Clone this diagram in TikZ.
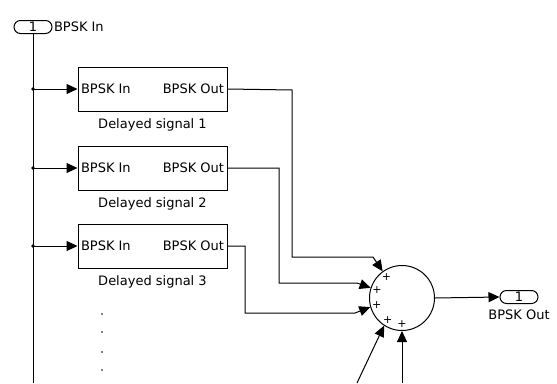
\documentclass[tikz,border=0pt]{standalone}
\usepackage{fontspec}
\setmainfont{DejaVu Sans}
\usetikzlibrary{arrows.meta,calc,positioning}
\tikzstyle{port} = [draw, rounded corners=6.5pt, minimum width=38pt, minimum height=13pt, inner sep=0pt]
\tikzstyle{delaybox} = [draw, minimum width=149pt, minimum height=44pt, inner sep=0pt]
\tikzstyle{sig} = [-{Triangle[length=11pt,width=10pt]}]
\tikzstyle{plus} = [inner sep=0pt, font={\fontsize{11}{11}\selectfont}]
\tikzset{font={\fontsize{13}{15}\selectfont}}

\begin{document}
\begin{tikzpicture}[x=1pt, y=-1pt, line width=1pt]
  \useasboundingbox (0,0) rectangle (557,383);

  % input port and trunk
  \node[port] (inport) at (33,27) {1};
  \node[anchor=west, inner sep=1pt] (inlabel) at (inport.east) {BPSK In};
  \coordinate (trunkend) at (33,383);
  \draw (inport.south) -- (trunkend);

  % delayed copies
  \foreach \k/\y in {1/89, 2/168, 3/246} {
    \node[delaybox] (d\k) at (152.5,\y) {};
    \node[anchor=west, inner sep=3pt] (d\k in) at (d\k.west) {BPSK In};
    \node[anchor=east, inner sep=3pt] (d\k out) at (d\k.east) {BPSK Out};
    \node[below=3pt of d\k] (d\k label) {Delayed signal \k};
    \coordinate (br\k) at (33,\y);
    \fill (br\k) circle (1.8pt);
    \draw[sig] (br\k) -- (d\k.west);
  }

  % dots for the remaining branches
  \foreach \y in {314, 332, 352, 370}
    \fill (102,\y) circle (0.8pt);

  % sum block
  \node[draw, circle, minimum size=65pt, inner sep=0pt] (sum) at (402,298) {};
  \foreach \a in {126, 162, 196, 237, 270}
    \node[plus] at ($(sum.center)!0.8!(sum.\a)$) {+};

  \draw[sig] (d1.east) -- (292,90) -- (292,257) -- (373,257) -- (sum.126);
  \draw[sig] (d2.east) -- (279,168) -- (279,283) -- (357,283) -- (sum.162);
  \draw[sig] (d3.east) -- (245,246) -- (245,313) -- (355,313) -- (sum.196);

  \coordinate (in4) at (357,383);
  \coordinate (in5) at (402,383);
  \draw[sig] (in4) -- (sum.237);
  \draw[sig] (in5) -- (sum.south);

  % output port
  \node[port] (outport) at (519,297) {1};
  \node[below=2pt of outport] (outlabel) {BPSK Out};
  \draw[sig] (sum.east) -- (outport.west);

\end{tikzpicture}
\end{document}
